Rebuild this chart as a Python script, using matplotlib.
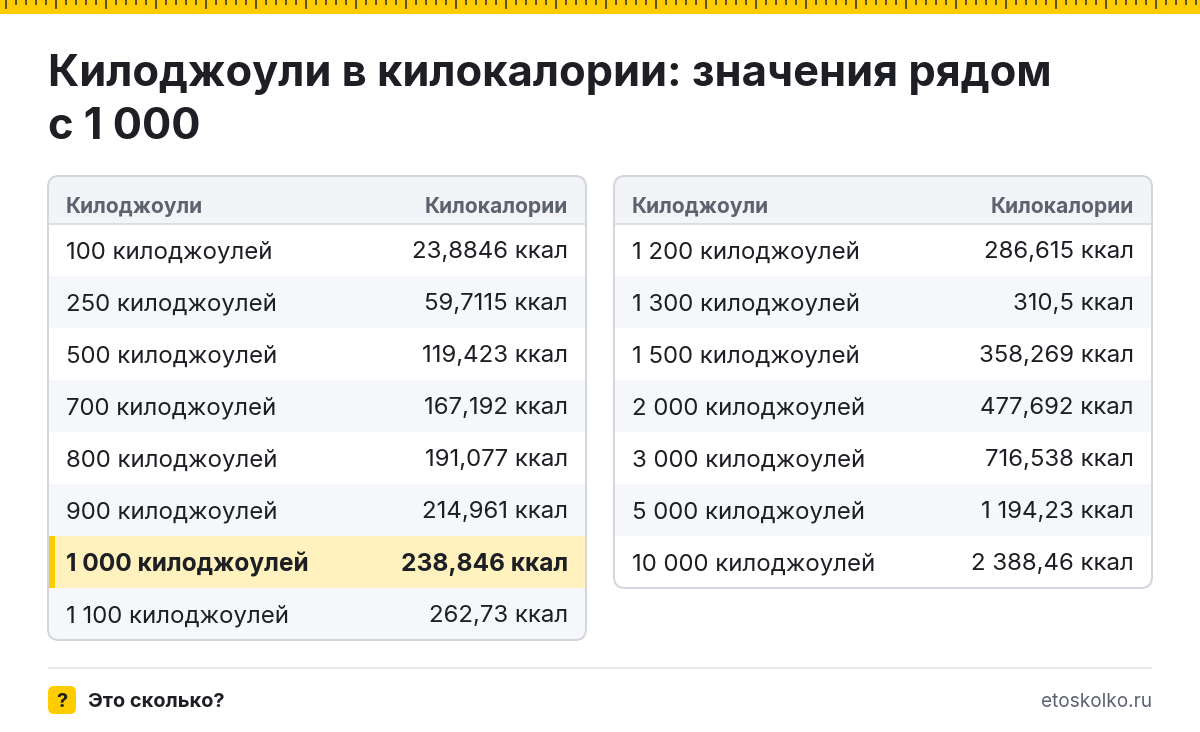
import matplotlib
matplotlib.use("Agg")
import matplotlib.pyplot as plt
from matplotlib.patches import FancyBboxPatch, Rectangle

plt.rcParams['font.family'] = ['Inter', 'DejaVu Sans']

title_lines = ["Килоджоули в килокалории: значения рядом", "с 1\u00a0000"]
col_heads = ["Килоджоули", "Килокалории"]
left_kj = ["100 килоджоулей", "250 килоджоулей", "500 килоджоулей", "700 килоджоулей",
           "800 килоджоулей", "900 килоджоулей", "1\u00a0000 килоджоулей", "1\u00a0100 килоджоулей"]
left_kcal = ["23,8846 ккал", "59,7115 ккал", "119,423 ккал", "167,192 ккал",
             "191,077 ккал", "214,961 ккал", "238,846 ккал", "262,73 ккал"]
right_kj = ["1\u00a0200 килоджоулей", "1\u00a0300 килоджоулей", "1\u00a0500 килоджоулей", "2\u00a0000 килоджоулей",
            "3\u00a0000 килоджоулей", "5\u00a0000 килоджоулей", "10\u00a0000 килоджоулей"]
right_kcal = ["286,615 ккал", "310,5 ккал", "358,269 ккал", "477,692 ккал",
              "716,538 ккал", "1\u00a0194,23 ккал", "2\u00a0388,46 ккал"]
highlight_row = 6

W, H = 1200, 732
PX = 72 / 100
YEL = "#FFCC00"; INK = "#1D1F24"; GREY = "#5C636E"; BORD = "#D3D6DD"
HEAD = "#F3F4F7"; ALT = "#F6F7FA"; HL = "#FFF2BF"

fig = plt.figure(figsize=(W / 100, H / 100), dpi=100, facecolor="white")
ax = fig.add_axes([0, 0, 1, 1])
ax.set_xlim(0, W); ax.set_ylim(H, 0); ax.axis("off")

# ruler band
ax.add_patch(Rectangle((0, 0), W, 14, fc=YEL, ec="none"))
for i, x in enumerate(range(6, W, 10)):
    ax.add_patch(Rectangle((x - 1, 0), 2, 9 if i % 5 == 0 else 5, fc="#5E5424", ec="none"))

# title
for i, line in enumerate(title_lines):
    ax.text(48, 70 + 53 * i, line, fontsize=43.4 * PX, fontweight="bold", color=INK, va="center_baseline", ha="left")


def table(x0, x1, kj, kcal, hl=None):
    top, head_h, row_h = 176, 48, 52
    bottom = top + head_h + row_h * len(kj)
    frame = FancyBboxPatch((x0, top), x1 - x0, bottom - top, boxstyle="round,pad=0,rounding_size=11",
                           fc="white", ec="none", zorder=1)
    ax.add_patch(frame)
    head = Rectangle((x0, top), x1 - x0, head_h, fc=HEAD, ec="none", zorder=2)
    ax.add_patch(head); head.set_clip_path(frame)
    ax.plot([x0, x1], [top + head_h] * 2, color=BORD, lw=1.5 * PX, zorder=3, solid_capstyle="butt")
    ax.text(x0 + 18, top + 29, col_heads[0], fontsize=21 * PX, fontweight="bold", color=GREY, va="center_baseline", zorder=5)
    ax.text(x1 - 18, top + 29, col_heads[1], fontsize=21 * PX, fontweight="bold", color=GREY, va="center_baseline", ha="right", zorder=5)
    for i, (a, b) in enumerate(zip(kj, kcal)):
        y = top + head_h + row_h * i
        is_hl = i == hl
        if is_hl or i % 2 == 1:
            r = Rectangle((x0, y), x1 - x0, row_h, fc=HL if is_hl else ALT, ec="none", zorder=2)
            ax.add_patch(r); r.set_clip_path(frame)
        if is_hl:
            ax.add_patch(Rectangle((x0 + 1, y), 6, row_h, fc=YEL, ec="none", zorder=3))
        w = "bold" if is_hl else "normal"
        size = 24.5 if is_hl else 24.0
        ax.text(x0 + 18, y + 26, a, fontsize=size * PX, fontweight=w, color=INK, va="center_baseline", zorder=5)
        ax.text(x1 - 18, y + 26, b, fontsize=size * PX, fontweight=w, color=INK, va="center_baseline", ha="right", zorder=5)
    ax.add_patch(FancyBboxPatch((x0, top), x1 - x0, bottom - top, boxstyle="round,pad=0,rounding_size=11",
                                fc="none", ec=BORD, lw=2 * PX, zorder=6))


table(48, 586, left_kj, left_kcal, highlight_row)
table(614, 1152, right_kj, right_kcal)

# footer
ax.plot([48, 1152], [668, 668], color="#E6E8EC", lw=2 * PX, solid_capstyle="butt")
ax.add_patch(FancyBboxPatch((48, 686), 28, 28, boxstyle="round,pad=0,rounding_size=6", fc=YEL, ec="none"))
ax.text(62, 700, "?", fontsize=20 * PX, fontweight="bold", color=INK, ha="center", va="center_baseline")
ax.text(88, 700, "Это сколько?", fontsize=20 * PX, fontweight="bold", color=INK, va="center_baseline")
ax.text(1152, 700, "etoskolko.ru", fontsize=19 * PX, color=GREY, ha="right", va="center_baseline")

fig.savefig("out.png", dpi=100, facecolor="white")
